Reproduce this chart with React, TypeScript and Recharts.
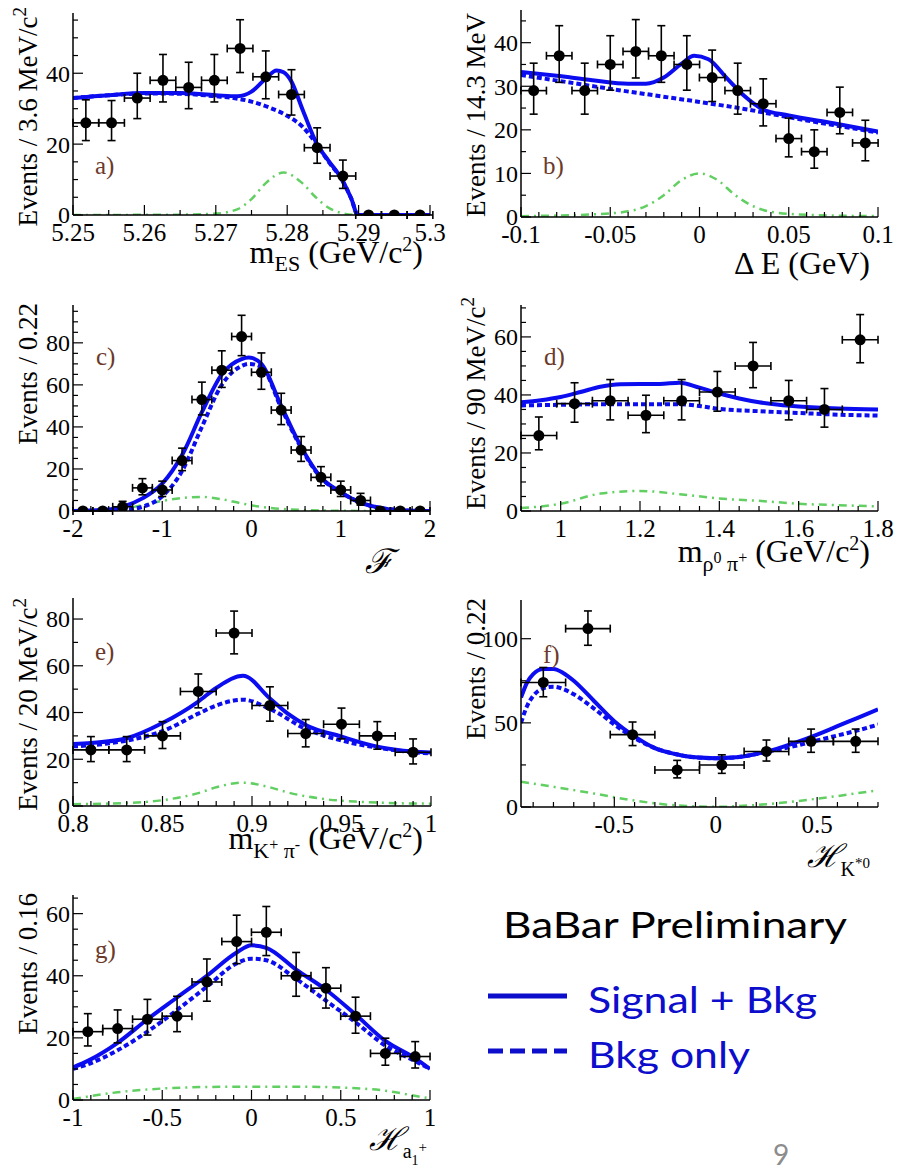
import React from "react";
import { ComposedChart, Line, Scatter, ErrorBar, XAxis, YAxis } from "recharts";

// ---------- a) m_ES ----------
const aBins = [5.2518, 5.2554, 5.259, 5.2626, 5.2662, 5.2698, 5.2734, 5.277, 5.2806, 5.2842, 5.2878, 5.2914, 5.295, 5.2986];
const aCounts = [26, 26, 33, 38, 36, 38, 47, 39, 34, 19, 11, 0, 0, 0];
const aErrHi = [6.5, 6.3, 7.0, 7.3, 7.1, 7.3, 8.1, 7.3, 7.0, 5.6, 4.5, 0, 0, 0];
const aErrLo = [5.0, 5.0, 5.8, 6.1, 6.0, 6.1, 6.8, 6.2, 5.8, 4.4, 3.5, 0, 0, 0];
const aFitX = [5.25, 5.255, 5.26, 5.265, 5.27, 5.273, 5.275, 5.277, 5.2785, 5.2795, 5.2805, 5.2822, 5.2841, 5.2858, 5.2875, 5.289, 5.2899, 5.295, 5.3];
const aFitY = [33.0, 33.8, 34.4, 34.4, 33.8, 33.5, 34.8, 38.5, 40.8, 40.3, 38.0, 29.5, 20.3, 15.3, 10.6, 4.5, 0, 0, 0];
const aBkgX = [5.25, 5.255, 5.26, 5.265, 5.27, 5.2725, 5.275, 5.2775, 5.28, 5.2822, 5.2841, 5.2858, 5.2875, 5.289, 5.2899, 5.295, 5.3];
const aBkgY = [33.0, 33.8, 34.3, 34.2, 33.5, 33.0, 32.0, 30.3, 28.0, 24.8, 20.0, 15.0, 10.5, 4.5, 0, 0, 0];
const aSigX = [5.25, 5.265, 5.27, 5.273, 5.275, 5.277, 5.2795, 5.282, 5.284, 5.286, 5.288, 5.29, 5.3];
const aSigY = [0, 0.1, 0.4, 1.6, 4.5, 9.0, 12.0, 9.2, 5.0, 1.8, 0.4, 0, 0];

// ---------- b) Delta E ----------
const bBins = [-0.0929, -0.0786, -0.0643, -0.05, -0.0357, -0.0214, -0.0071, 0.0071, 0.0214, 0.0357, 0.05, 0.0643, 0.0786, 0.0929];
const bCounts = [29, 37, 29, 35, 38, 37, 35, 32, 29, 26, 18, 15, 24, 17];
const bErrHi = [6.3, 6.9, 6.3, 6.6, 7.3, 6.9, 6.6, 6.3, 6.3, 5.7, 4.7, 5.0, 5.8, 5.2];
const bErrLo = [5.4, 6.1, 5.4, 5.9, 6.1, 6.1, 5.9, 5.5, 5.4, 5.1, 4.2, 3.8, 4.9, 4.1];
const bFitX = [-0.1, -0.08, -0.06, -0.04, -0.03, -0.02, -0.01, -0.003, 0.005, 0.015, 0.025, 0.035, 0.05, 0.075, 0.1];
const bFitY = [33.3, 32.4, 31.4, 30.6, 30.6, 32.0, 35.2, 37.0, 36.2, 32.0, 27.8, 24.8, 23.3, 21.5, 19.6];
const bBkgX = [-0.1, -0.075, -0.05, -0.025, 0, 0.025, 0.05, 0.075, 0.1];
const bBkgY = [32.6, 31.0, 29.4, 27.9, 26.4, 24.8, 22.9, 21.1, 19.4];
const bSigX = [-0.1, -0.06, -0.04, -0.03, -0.02, -0.01, 0, 0.01, 0.02, 0.03, 0.04, 0.06, 0.1];
const bSigY = [0.2, 0.6, 1.3, 2.5, 5.0, 8.5, 10.0, 8.5, 5.0, 2.5, 1.2, 0.5, 0.2];

// ---------- c) Fisher ----------
const cBins = [-1.889, -1.667, -1.444, -1.222, -1.0, -0.778, -0.556, -0.333, -0.111, 0.111, 0.333, 0.556, 0.778, 1.0, 1.222, 1.444, 1.667, 1.889];
const cCounts = [0, 0, 2, 11, 10, 24, 53, 67, 83, 66, 48, 29, 16, 10, 5, 0, 0, 0];
const cErrHi = [0, 0, 2.6, 4.4, 4.2, 5.9, 8.3, 9.2, 10.1, 9.2, 8.0, 6.4, 5.1, 4.2, 3.4, 0, 0, 0];
const cErrLo = [0, 0, 1.3, 3.3, 3.1, 4.8, 7.3, 8.2, 9.1, 8.1, 6.9, 5.4, 4.0, 3.1, 2.2, 0, 0, 0];
const cFitX = [-2, -1.667, -1.444, -1.222, -1.0, -0.778, -0.556, -0.333, -0.111, -0.03, 0.111, 0.333, 0.556, 0.778, 1.0, 1.222, 1.444, 1.667, 2];
const cFitY = [0, 0.5, 2.0, 6.0, 13.0, 26.6, 47.0, 65.0, 72.3, 73.0, 70.0, 50.0, 30.5, 16.0, 9.0, 4.0, 1.5, 0.4, 0];
const cBkgY = [0, 0.1, 0.5, 2.0, 7.0, 19.0, 40.0, 60.0, 69.0, 70.0, 68.5, 49.0, 30.0, 15.8, 8.9, 4.0, 1.5, 0.4, 0];
const cSigX = [-2, -1.667, -1.444, -1.222, -1.0, -0.778, -0.556, -0.333, -0.111, 0.111, 0.333, 0.556, 1.0, 1.5, 2];
const cSigY = [0, 0.2, 1.0, 2.8, 4.8, 6.2, 6.7, 5.6, 3.6, 2.0, 1.0, 0.5, 0.1, 0, 0];

// ---------- d) m(rho0 pi+) ----------
const dBins = [0.945, 1.035, 1.125, 1.215, 1.305, 1.395, 1.485, 1.575, 1.665, 1.755];
const dCounts = [26, 37, 38, 33, 38, 41, 50, 38, 35, 59];
const dErrHi = [6.4, 7.2, 7.3, 6.9, 7.3, 7.1, 8.1, 7.0, 7.2, 8.7];
const dErrLo = [4.9, 6.4, 6.6, 6.0, 6.6, 6.6, 7.5, 6.6, 6.1, 7.9];
const dFitX = [0.9, 0.95, 1.0, 1.05, 1.1, 1.15, 1.2, 1.25, 1.3, 1.35, 1.4, 1.45, 1.5, 1.55, 1.6, 1.7, 1.8];
const dFitY = [37.5, 38.2, 39.3, 41.0, 42.8, 43.7, 43.8, 43.8, 44.2, 42.5, 40.5, 38.8, 37.5, 36.6, 36.0, 35.3, 35.0];
const dBkgX = [0.9, 1.0, 1.1, 1.2, 1.3, 1.35, 1.4, 1.5, 1.6, 1.7, 1.8];
const dBkgY = [36.4, 36.6, 36.8, 36.8, 36.8, 36.2, 35.2, 34.4, 33.8, 33.2, 32.9];
const dSigX = [0.9, 1.0, 1.1, 1.2, 1.3, 1.4, 1.5, 1.6, 1.7, 1.8];
const dSigY = [1.0, 2.5, 6.0, 6.9, 5.8, 4.3, 3.5, 2.5, 2.0, 1.6];

// ---------- e) m(K+ pi-) ----------
const eBins = [0.81, 0.83, 0.85, 0.87, 0.89, 0.91, 0.93, 0.95, 0.97, 0.99];
const eCounts = [24, 24, 30, 49, 74, 43, 31, 35, 30, 23];
const eErrHi = [5.7, 5.7, 6.1, 7.5, 9.4, 8.0, 6.0, 6.9, 6.1, 5.7];
const eErrLo = [5.0, 5.0, 5.4, 7.0, 8.9, 6.7, 5.7, 6.3, 5.7, 5.0];
const eFitX = [0.8, 0.81, 0.83, 0.85, 0.87, 0.88, 0.895, 0.91, 0.92, 0.93, 0.95, 0.97, 0.99, 1.0];
const eFitY = [26.5, 27.0, 29.0, 35.5, 44.7, 50.5, 55.7, 46.0, 39.5, 34.7, 29.7, 25.4, 23.3, 22.9];
const eBkgX = [0.8, 0.81, 0.83, 0.85, 0.87, 0.88, 0.895, 0.91, 0.93, 0.95, 0.97, 0.99, 1.0];
const eBkgY = [25.5, 26.0, 28.0, 32.0, 39.5, 43.0, 45.5, 41.5, 33.0, 28.0, 25.0, 23.0, 22.5];
const eSigX = [0.8, 0.83, 0.85, 0.87, 0.88, 0.895, 0.91, 0.92, 0.94, 0.96, 0.98, 1.0];
const eSigY = [0.8, 1.3, 2.5, 5.5, 8.0, 10.0, 8.0, 5.8, 3.0, 1.8, 1.2, 1.0];

// ---------- f) H(K*0) ----------
const fBins = [-0.85, -0.63, -0.41, -0.19, 0.03, 0.25, 0.47, 0.69];
const fCounts = [74, 106, 43, 22, 25, 33, 39, 39];
const fErrHi = [8.9, 10.5, 7.5, 5.7, 6.0, 6.8, 7.3, 7.3];
const fErrLo = [8.5, 9.9, 6.5, 4.7, 5.0, 5.7, 6.5, 6.5];
const fFitX = [-0.96, -0.93, -0.9, -0.85, -0.8, -0.75, -0.7, -0.6, -0.5, -0.4, -0.3, -0.2, -0.1, 0, 0.1, 0.2, 0.3, 0.4, 0.5, 0.6, 0.7, 0.8];
const fFitY = [65, 74, 79, 82, 82, 79.5, 75, 63, 51, 42, 35, 31.5, 29.5, 29, 29.5, 31.5, 34.5, 38.5, 43, 48, 53, 58];
const fBkgY = [50, 60, 66, 70.5, 71.5, 70, 67, 58.5, 49, 41, 35, 31.5, 29.5, 29, 29.5, 31.5, 34, 36.5, 39.5, 42.5, 45.5, 49];
const fSigX = [-0.96, -0.8, -0.6, -0.4, -0.2, 0, 0.2, 0.4, 0.6, 0.8];
const fSigY = [15, 12, 8, 3.8, 1.0, 0.1, 1.2, 3.5, 6.5, 10.0];

// ---------- g) H(a1+) ----------
const gBins = [-0.917, -0.75, -0.583, -0.417, -0.25, -0.083, 0.083, 0.25, 0.417, 0.583, 0.75, 0.917];
const gCounts = [22, 23, 26, 27, 38, 51, 54, 40, 36, 27, 15, 14];
const gErrHi = [5.8, 6.0, 6.4, 6.4, 7.4, 8.5, 8.3, 7.5, 6.6, 6.1, 4.9, 4.8];
const gErrLo = [4.6, 4.6, 5.1, 5.0, 6.2, 7.1, 7.5, 6.6, 6.4, 5.5, 3.8, 3.7];
const gFitX = [-1, -0.917, -0.75, -0.583, -0.417, -0.25, -0.083, 0, 0.083, 0.25, 0.417, 0.583, 0.75, 0.917, 1];
const gFitY = [10.5, 12.6, 18.4, 26.0, 33.0, 40.0, 47.5, 49.8, 49.0, 42.0, 35.5, 27.5, 19.0, 13.4, 10.0];
const gBkgY = [10, 11.5, 16, 22, 29, 36.5, 44, 45.5, 45, 39, 32, 25, 17.5, 12.5, 10];
const gSigX = [-1, -0.75, -0.5, -0.25, 0, 0.25, 0.5, 0.75, 0.9, 1];
const gSigY = [0.3, 2.5, 3.7, 4.2, 4.3, 4.3, 4.0, 3.0, 1.5, 0.5];

// ---------- styling / layout ----------
const SERIF = '"Liberation Serif", "Times New Roman", "DejaVu Serif", serif';
const SANS = 'Lato, "Open Sans", "Noto Sans", sans-serif';
const BLUE = "#0c0cf0";
const GREEN = "#62cf62";
const LETTER = "#6b3a2a";
const LEG_BLUE = "#0d0dcc";
const YW = 80;
const XH = 80;
const MT = 10;
const MR = 30;
const AXIS = { stroke: "#000", strokeWidth: 1.5 };

type Seg = { t: string; s?: number; f?: number; it?: boolean };

interface PanelCfg {
  letter: string;
  left: number; top: number; w: number; h: number;
  xDomain: [number, number]; yDomain: [number, number];
  xMajor: number[]; xMinor: number; yMajor: number[]; yMinor: number;
  bins: number[]; counts: number[]; errHi: number[]; errLo: number[]; half: number;
  fitX: number[]; fitY: number[]; bkgX: number[]; bkgY: number[]; sigX: number[]; sigY: number[];
  xTitle: Seg[]; xTitleSize: number; xTitleRight: number; xTitleBase: number;
  yTitle: Seg[]; yTitleTop: number;
  letterDx: number; letterDy: number;
}

const SUP2: Seg = { t: "2", s: -12, f: 20 };
const UNIT: Seg[] = [{ t: " (GeV/c", s: 0 }, SUP2, { t: ")", s: 0 }];

const panels: PanelCfg[] = [
  {
    letter: "a)", left: 73, top: 13, w: 357, h: 202,
    xDomain: [5.25, 5.3], yDomain: [0, 57],
    xMajor: [5.25, 5.26, 5.27, 5.28, 5.29, 5.3], xMinor: 0.005, yMajor: [0, 20, 40], yMinor: 5,
    bins: aBins, counts: aCounts, errHi: aErrHi, errLo: aErrLo, half: 0.0018,
    fitX: aFitX, fitY: aFitY, bkgX: aBkgX, bkgY: aBkgY, sigX: aSigX, sigY: aSigY,
    xTitle: [{ t: "m" }, { t: "ES", s: 8, f: 22 }, ...UNIT],
    xTitleSize: 32, xTitleRight: -7, xTitleBase: 48,
    yTitle: [{ t: "Events / 3.6 MeV/c" }, { t: "2", s: -11, f: 19 }], yTitleTop: -6,
    letterDx: 22, letterDy: 153,
  },
  {
    letter: "b)", left: 521, top: 10, w: 357, h: 207,
    xDomain: [-0.1, 0.1], yDomain: [0, 47.5],
    xMajor: [-0.1, -0.05, 0, 0.05, 0.1], xMinor: 0.01, yMajor: [0, 10, 20, 30, 40], yMinor: 5,
    bins: bBins, counts: bCounts, errHi: bErrHi, errLo: bErrLo, half: 0.00715,
    fitX: bFitX, fitY: bFitY, bkgX: bBkgX, bkgY: bBkgY, sigX: bSigX, sigY: bSigY,
    xTitle: [{ t: "Δ E (GeV)" }], xTitleSize: 32, xTitleRight: -8, xTitleBase: 57,
    yTitle: [{ t: "Events / 14.3 MeV" }], yTitleTop: 3,
    letterDx: 22, letterDy: 156,
  },
  {
    letter: "c)", left: 73, top: 305, w: 357, h: 206,
    xDomain: [-2, 2], yDomain: [0, 98],
    xMajor: [-2, -1, 0, 1, 2], xMinor: 0.2, yMajor: [0, 20, 40, 60, 80], yMinor: 5,
    bins: cBins, counts: cCounts, errHi: cErrHi, errLo: cErrLo, half: 0.111,
    fitX: cFitX, fitY: cFitY, bkgX: cFitX, bkgY: cBkgY, sigX: cSigX, sigY: cSigY,
    xTitle: [{ t: "ℱ", it: true }], xTitleSize: 34, xTitleRight: -37, xTitleBase: 62,
    yTitle: [{ t: "Events / 0.22" }], yTitleTop: -2,
    letterDx: 23, letterDy: 52,
  },
  {
    letter: "d)", left: 521, top: 305, w: 357, h: 206,
    xDomain: [0.9, 1.8], yDomain: [0, 71],
    xMajor: [1, 1.2, 1.4, 1.6, 1.8], xMinor: 0.05, yMajor: [0, 20, 40, 60], yMinor: 5,
    bins: dBins, counts: dCounts, errHi: dErrHi, errLo: dErrLo, half: 0.045,
    fitX: dFitX, fitY: dFitY, bkgX: dBkgX, bkgY: dBkgY, sigX: dSigX, sigY: dSigY,
    xTitle: [{ t: "m" }, { t: "ρ", s: 9, f: 22 }, { t: "0", s: 1, f: 16 }, { t: " π", s: 9, f: 22 }, { t: "+", s: 1, f: 16 }, ...UNIT],
    xTitleSize: 32, xTitleRight: -8, xTitleBase: 51,
    yTitle: [{ t: "Events / 90 MeV/c" }, { t: "2", s: -11, f: 19 }], yTitleTop: -8,
    letterDx: 23, letterDy: 52,
  },
  {
    letter: "e)", left: 73, top: 598, w: 358, h: 208,
    xDomain: [0.8, 1], yDomain: [0, 89],
    xMajor: [0.8, 0.85, 0.9, 0.95, 1], xMinor: 0.01, yMajor: [0, 20, 40, 60, 80], yMinor: 10,
    bins: eBins, counts: eCounts, errHi: eErrHi, errLo: eErrLo, half: 0.01,
    fitX: eFitX, fitY: eFitY, bkgX: eBkgX, bkgY: eBkgY, sigX: eSigX, sigY: eSigY,
    xTitle: [{ t: "m" }, { t: "K", s: 9, f: 22 }, { t: "+", s: 1, f: 16 }, { t: " π", s: 9, f: 22 }, { t: "-", s: 1, f: 16 }, ...UNIT],
    xTitleSize: 32, xTitleRight: -8, xTitleBase: 43,
    yTitle: [{ t: "Events / 20 MeV/c" }, { t: "2", s: -11, f: 19 }], yTitleTop: 0,
    letterDx: 22, letterDy: 54,
  },
  {
    letter: "f)", left: 521, top: 600, w: 357, h: 207,
    xDomain: [-0.96, 0.8], yDomain: [0, 123],
    xMajor: [-0.5, 0, 0.5], xMinor: 0.1, yMajor: [0, 50, 100], yMinor: 25,
    bins: fBins, counts: fCounts, errHi: fErrHi, errLo: fErrLo, half: 0.11,
    fitX: fFitX, fitY: fFitY, bkgX: fFitX, bkgY: fBkgY, sigX: fSigX, sigY: fSigY,
    xTitle: [{ t: "ℋ", it: true }, { t: "K", s: 9, f: 20 }, { t: "*0", s: 1, f: 15 }],
    xTitleSize: 32, xTitleRight: -8, xTitleBase: 60,
    yTitle: [{ t: "Events / 0.22" }], yTitleTop: -2,
    letterDx: 22, letterDy: 55,
  },
  {
    letter: "g)", left: 73, top: 895, w: 357, h: 205,
    xDomain: [-1, 1], yDomain: [0, 66],
    xMajor: [-1, -0.5, 0, 0.5, 1], xMinor: 0.1, yMajor: [0, 20, 40, 60], yMinor: 5,
    bins: gBins, counts: gCounts, errHi: gErrHi, errLo: gErrLo, half: 0.0833,
    fitX: gFitX, fitY: gFitY, bkgX: gFitX, bkgY: gBkgY, sigX: gSigX, sigY: gSigY,
    xTitle: [{ t: "ℋ", it: true }, { t: "a", s: 8, f: 20 }, { t: "1", s: 15, f: 14 }, { t: "+", s: 2, f: 15 }],
    xTitleSize: 32, xTitleRight: -3, xTitleBase: 50,
    yTitle: [{ t: "Events / 0.16" }], yTitleTop: -2,
    letterDx: 22, letterDy: 55,
  },
];

// tick positions: majors plus minor divisions inside the domain
function tickList(major: number[], [lo, hi]: [number, number], step: number) {
  const out = new Set<number>(major.map((v) => +v.toFixed(6)));
  const first = Math.ceil(lo / step - 1e-9);
  const last = Math.floor(hi / step + 1e-9);
  for (let i = first; i <= last; i++) out.add(+(i * step).toFixed(6));
  return Array.from(out).sort((a, b) => a - b);
}

const isIn = (list: number[], v: number) => list.some((m) => Math.abs(m - v) < 1e-7);

function SegText({ segs, x, y, size, anchor, transform, fill = "#000" }: {
  segs: Seg[]; x: number; y: number; size: number; anchor: "start" | "end" | "middle"; transform?: string; fill?: string;
}) {
  let prev = 0;
  return (
    <text x={x} y={y} fontSize={size} fontFamily={SERIF} textAnchor={anchor} transform={transform} fill={fill} style={{ whiteSpace: "pre" }}>
      {segs.map((sg, i) => {
        const s = sg.s ?? 0;
        const dy = s - prev;
        prev = s;
        return (
          <tspan key={i} dy={dy} fontSize={sg.f ?? size} fontStyle={sg.it ? "italic" : undefined}>
            {sg.t}
          </tspan>
        );
      })}
    </text>
  );
}

const dot = (props: any) => <circle cx={props.cx} cy={props.cy} r={5.5} fill="#000" />;

function Panel({ p }: { p: PanelCfg }) {
  const points = p.bins.map((x, i) => ({ x, y: p.counts[i], ex: p.half, ey: [p.errLo[i], p.errHi[i]] }));
  const fit = p.fitX.map((x, i) => ({ x, y: p.fitY[i] }));
  const bkg = p.bkgX.map((x, i) => ({ x, y: p.bkgY[i] }));
  const sig = p.sigX.map((x, i) => ({ x, y: p.sigY[i] }));
  const xTicks = tickList(p.xMajor, p.xDomain, p.xMinor);
  const yTicks = tickList(p.yMajor, p.yDomain, p.yMinor);
  const plotL = YW;
  const plotT = MT;
  const plotR = YW + p.w;
  const plotB = MT + p.h;

  const bottomTick = (t: any) => {
    const v = t.payload.value;
    const maj = isIn(p.xMajor, v);
    return (
      <g>
        <line x1={t.x} x2={t.x} y1={t.y} y2={t.y - (maj ? 10 : 5)} stroke="#000" strokeWidth={1.2} />
        {maj && (
          <text x={t.x} y={t.y + 26} textAnchor="middle" fontSize={25} fontFamily={SERIF} fill="#000">
            {String(+v.toFixed(4))}
          </text>
        )}
      </g>
    );
  };
  const topTick = (t: any) => {
    const maj = isIn(p.xMajor, t.payload.value);
    return <line x1={t.x} x2={t.x} y1={t.y} y2={t.y + (maj ? 10 : 5)} stroke="#000" strokeWidth={1.2} />;
  };
  const leftTick = (t: any) => {
    const v = t.payload.value;
    const maj = isIn(p.yMajor, v);
    return (
      <g>
        <line x1={t.x} x2={t.x + (maj ? 10 : 5)} y1={t.y} y2={t.y} stroke="#000" strokeWidth={1.2} />
        {maj && (
          <text x={t.x - 3} y={t.y} dy="0.35em" textAnchor="end" fontSize={24} fontFamily={SERIF} fill="#000">
            {String(v)}
          </text>
        )}
      </g>
    );
  };
  const rightTick = (t: any) => {
    const maj = isIn(p.yMajor, t.payload.value);
    return <line x1={t.x} x2={t.x - (maj ? 10 : 5)} y1={t.y} y2={t.y} stroke="#000" strokeWidth={1.2} />;
  };

  const xTitle = () => (
    <SegText segs={p.xTitle} x={plotR + p.xTitleRight} y={plotB + p.xTitleBase} size={p.xTitleSize} anchor="end" />
  );
  const yTitle = () => {
    const bx = plotL - 36;
    const by = plotT + p.yTitleTop;
    return (
      <g>
        <SegText segs={p.yTitle} x={bx} y={by} size={27} anchor="end" transform={`rotate(-90 ${bx} ${by})`} />
        <text x={plotL + p.letterDx} y={plotT + p.letterDy + 8} fontSize={25} fontFamily={SERIF} fill={LETTER}>
          {p.letter}
        </text>
      </g>
    );
  };

  return (
    <div style={{ position: "absolute", left: p.left - YW, top: p.top - MT }}>
      <ComposedChart width={YW + p.w + MR} height={MT + p.h + XH} margin={{ top: MT, right: MR, bottom: 0, left: 0 }}>
        <XAxis
          xAxisId="b" dataKey="x" type="number" domain={p.xDomain} allowDataOverflow ticks={xTicks} interval={0}
          tickSize={0} tickMargin={0} tickLine={false} axisLine={AXIS} height={XH} tick={bottomTick} label={xTitle}
        />
        <XAxis
          xAxisId="t" orientation="top" dataKey="x" type="number" domain={p.xDomain} allowDataOverflow ticks={xTicks}
          interval={0} tickSize={0} tickMargin={0} tickLine={false} axisLine={AXIS} height={0} tick={topTick}
        />
        <YAxis
          yAxisId="l" dataKey="y" type="number" domain={p.yDomain} allowDataOverflow ticks={yTicks} interval={0}
          tickSize={0} tickMargin={0} tickLine={false} axisLine={AXIS} width={YW} tick={leftTick} label={yTitle}
        />
        <YAxis
          yAxisId="r" orientation="right" dataKey="y" type="number" domain={p.yDomain} allowDataOverflow ticks={yTicks}
          interval={0} tickSize={0} tickMargin={0} tickLine={false} axisLine={AXIS} width={0} tick={rightTick}
        />
        <Line
          xAxisId="t" yAxisId="r" data={sig} dataKey="y" type="monotone" stroke={GREEN} strokeWidth={2.5}
          strokeDasharray="8 5 2 5" dot={false} activeDot={false} isAnimationActive={false}
        />
        <Line
          xAxisId="b" yAxisId="l" data={bkg} dataKey="y" type="monotone" stroke={BLUE} strokeWidth={4}
          strokeDasharray="5 3" dot={false} activeDot={false} isAnimationActive={false}
        />
        <Line
          xAxisId="b" yAxisId="l" data={fit} dataKey="y" type="monotone" stroke={BLUE} strokeWidth={4}
          dot={false} activeDot={false} isAnimationActive={false}
        />
        <Scatter xAxisId="b" yAxisId="l" data={points} dataKey="y" shape={dot} isAnimationActive={false}>
          <ErrorBar dataKey="ey" direction="y" width={4} stroke="#000" strokeWidth={1.6} />
          <ErrorBar dataKey="ex" direction="x" width={4} stroke="#000" strokeWidth={1.6} />
        </Scatter>
      </ComposedChart>
    </div>
  );
}

export default function App() {
  return (
    <div style={{ position: "absolute", left: 0, top: 0, width: 899, height: 1170, background: "#fff", overflow: "hidden" }}>
      {panels.map((p) => (
        <Panel key={p.letter} p={p} />
      ))}
      <svg width={899} height={1170} style={{ position: "absolute", left: 0, top: 0, pointerEvents: "none" }}>
        <text x={503} y={938} fontSize={36} fontFamily={SANS} fill="#000" textLength={344} lengthAdjust="spacingAndGlyphs">
          BaBar Preliminary
        </text>
        <line x1={488} x2={567} y1={996} y2={996} stroke={LEG_BLUE} strokeWidth={5} />
        <text x={588} y={1013} fontSize={37} fontFamily={SANS} fill={LEG_BLUE} textLength={229} lengthAdjust="spacingAndGlyphs">
          Signal + Bkg
        </text>
        <line x1={488} x2={567} y1={1051} y2={1051} stroke={LEG_BLUE} strokeWidth={5} strokeDasharray="15 7" />
        <text x={588} y={1068} fontSize={37} fontFamily={SANS} fill={LEG_BLUE} textLength={162} lengthAdjust="spacingAndGlyphs">
          Bkg only
        </text>
        <text x={781} y={1165} fontSize={28} fontFamily={SANS} fill="#8c8c8c" textAnchor="middle">
          9
        </text>
      </svg>
    </div>
  );
}
